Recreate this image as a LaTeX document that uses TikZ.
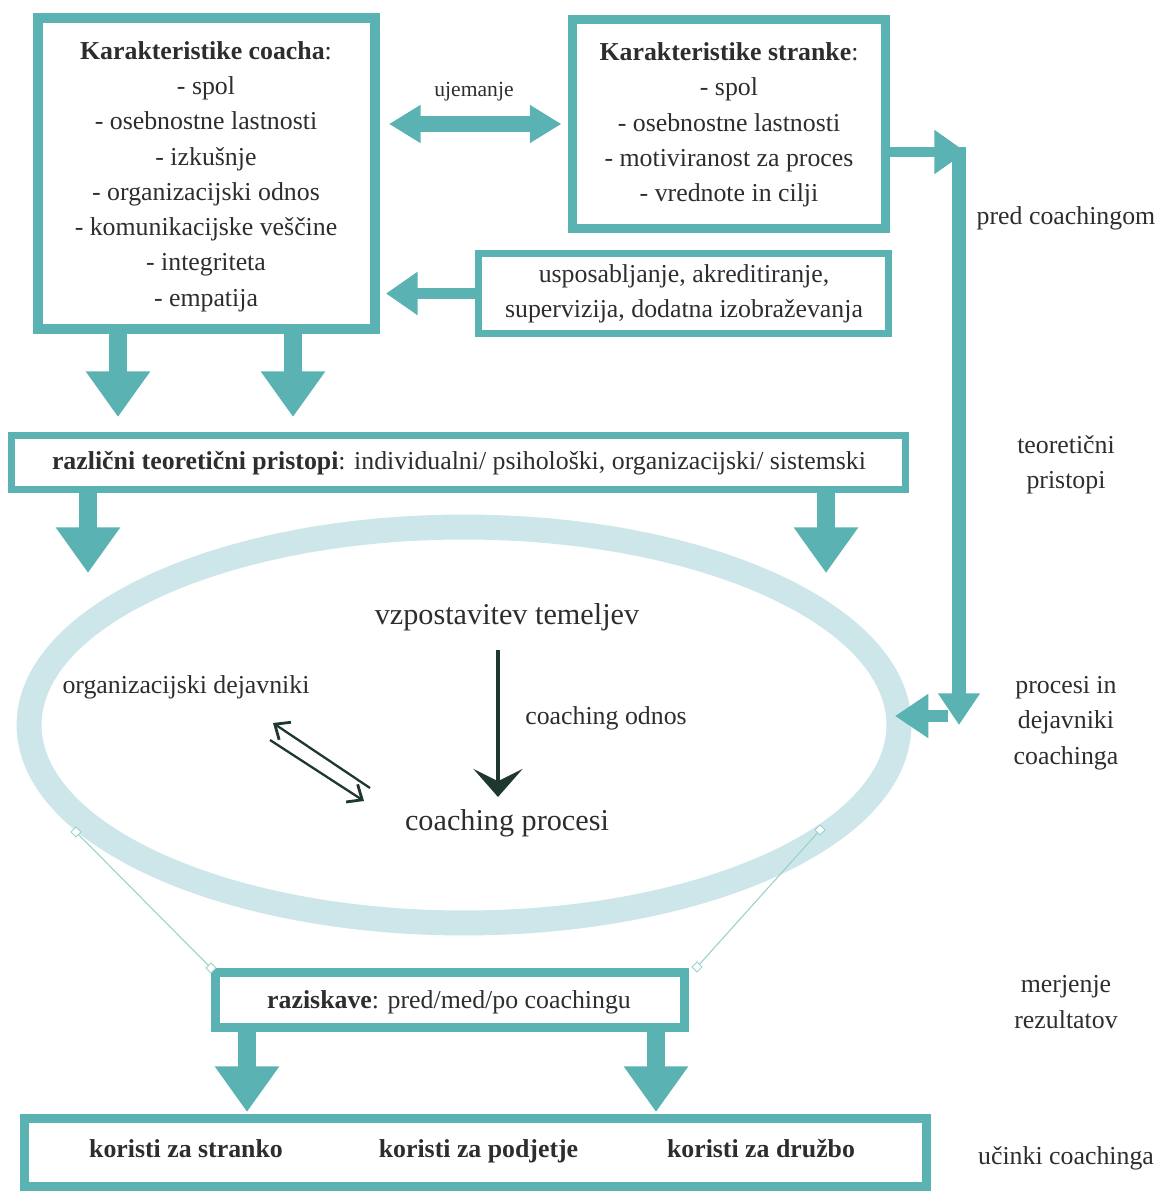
\documentclass[tikz,border=0pt]{standalone}
\usepackage{fontspec}
\setmainfont{Liberation Serif}
\usetikzlibrary{arrows.meta,fit,shapes.geometric}
\definecolor{tealc}{RGB}{90,178,178}
\definecolor{lightc}{RGB}{205,230,233}
\definecolor{thinc}{RGB}{150,210,200}
\definecolor{darkc}{RGB}{30,55,48}
\definecolor{txt}{RGB}{45,45,45}
\begin{document}
\begin{tikzpicture}[x=0.02cm,y=-0.02cm,
  box/.style={draw=tealc,inner sep=0pt},
  body/.style={text=txt,font=\fontsize{14.7}{20.1}\selectfont,align=center,inner sep=0pt},
  rowt/.style={body,text height=10pt,text depth=3pt},
  big/.style={text=txt,font=\fontsize{17.2}{21}\selectfont,inner sep=0pt},
  small/.style={text=txt,font=\fontsize{12.3}{15}\selectfont,inner sep=0pt},
  fat/.style={draw=tealc,line width=10.8pt,-{Triangle[width=35pt,length=26pt]}},
  dbl/.style={draw=tealc,line width=9pt,{Triangle[width=20.5pt,length=18pt]}-{Triangle[width=20.5pt,length=18pt]}},
  mid/.style={draw=tealc,line width=6.8pt,-{Triangle[width=23.5pt,length=18pt]}},
  thinl/.style={draw=thinc,line width=0.6pt},
  barb/.style={darkc,line width=1.3pt,-{Straight Barb[length=7pt,width=12pt,line width=1.6pt]}},
  dmark/.style={draw=thinc,fill=white,line width=0.5pt,diamond,inner sep=0pt,minimum size=6pt}
]
\useasboundingbox (0,0) rectangle (1159,1193);

% ellipse
\node[draw=lightc,line width=14.2pt,ellipse,minimum width=17.4cm,minimum height=7.92cm,inner sep=0pt] (ell) at (464,725) {};

% boxes
\node[box,line width=5.7pt,fit={(38,18)(375,329)}] (b1) {};
\node[box,line width=5.2pt,fit={(572.5,19.5)(885.5,228.5)}] (b2) {};
\node[box,line width=4pt,fit={(478.5,253.5)(888.5,333.5)}] (b3) {};
\node[box,line width=4pt,fit={(11.5,435.5)(905.5,489.5)}] (b4) {};
\node[box,line width=5.2pt,fit={(215.5,972.5)(684.5,1027.5)}] (b5) {};
\node[box,line width=5.2pt,fit={(24.5,1118.5)(926.5,1186.5)}] (b6) {};

% box texts
\node[body] (t1) at (206,176.5) {\textbf{Karakteristike coacha}:\\- spol\\- osebnostne lastnosti\\- izkušnje\\- organizacijski odnos\\- komunikacijske veščine\\- integriteta\\- empatija};
\node[body] (t2) at (729,125) {\textbf{Karakteristike stranke}:\\- spol\\- osebnostne lastnosti\\- motiviranost za proces\\- vrednote in cilji};
\node[body] (t3) at (684,294) {usposabljanje, akreditiranje,\\supervizija, dodatna izobraževanja};
\node[rowt] (t4) at (459,463) {\textbf{različni teoretični pristopi}: individualni/ psihološki, organizacijski/ sistemski};
\node[rowt] (t5) at (449,1002) {\textbf{raziskave}: pred/med/po coachingu};
\node[rowt] (k1) at (186,1151) {\textbf{koristi za stranko}};
\node[rowt] (k2) at (478.5,1151) {\textbf{koristi za podjetje}};
\node[rowt] (k3) at (761,1151) {\textbf{koristi za družbo}};
\node[small] (uj) at (474,92) {ujemanje};

% ellipse texts
\node[big] (e1) at (507,617) {vzpostavitev temeljev};
\node[rowt] (e2) at (186,687) {organizacijski dejavniki};
\node[rowt] (e3) at (606,718) {coaching odnos};
\node[big] (e4) at (507,823) {coaching procesi};

% right labels
\node[rowt] (r1l) at (1066,218) {pred coachingom};
\node[body] (r2l) at (1066,465) {teoretični\\pristopi};
\node[body] (r3l) at (1066,723) {procesi in\\dejavniki\\coachinga};
\node[body] (r4l) at (1066,1002) {merjenje\\rezultatov};
\node[rowt] (r5l) at (1066,1158) {učinki coachinga};

% fat down arrows
\coordinate (a1) at (118,417);
\coordinate (a2) at (293,417);
\coordinate (a3) at (88,573);
\coordinate (a4) at (826,573);
\coordinate (a5) at (247,1112);
\coordinate (a6) at (656,1112);
\draw[fat] (b1.south -| a1) -- (a1);
\draw[fat] (b1.south -| a2) -- (a2);
\draw[fat] (b4.south -| a3) -- (a3);
\draw[fat] (b4.south -| a4) -- (a4);
\draw[fat] (b5.south -| a5) -- (a5);
\draw[fat] (b5.south -| a6) -- (a6);

% double arrow
\coordinate (u) at (0,124);
\draw[dbl,shorten <=5.1pt,shorten >=3.7pt] (b1.east |- u) -- (b2.west |- u);

% training arrow
\draw[mid,shorten >=3.4pt] (b3.west) -- (b1.east |- b3.west);

% right connector
\coordinate (r0) at (959,147);
\coordinate (r1) at (966,152);
\coordinate (r2) at (959,725);
\coordinate (r3) at (948,716);
\coordinate (r4) at (895,716);
\draw[draw=tealc,line width=7.6pt,-{Triangle[width=22.7pt,length=18pt]}] (r0) -- (r2);
\draw[draw=tealc,line width=6.2pt,-{Triangle[width=24pt,length=18pt]}] (b2.east |- r1) -- (r1);
\draw[draw=tealc,line width=6.8pt,-{Triangle[width=24pt,length=19pt]}] (r3) -- (r4);

% dark arrows inside ellipse
\coordinate (v1) at (498,650);
\coordinate (v2) at (498,797);
\draw[darkc,line width=1.8pt,-{Stealth[width=28pt,length=16pt,inset=7pt]}] (v1) -- (v2);
\coordinate (d1) at (370,788);
\coordinate (d2) at (273,723);
\coordinate (d3) at (270,740);
\coordinate (d4) at (364,801);
\draw[barb] (d1) -- (d2);
\draw[barb] (d3) -- (d4);

% thin measuring lines
\node[dmark] (m1) at (76,832) {};
\node[dmark] (m2) at (211,968) {};
\node[dmark] (m3) at (820,830) {};
\node[dmark] (m4) at (697,967) {};
\draw[thinl] (m1) -- (m2);
\draw[thinl] (m3) -- (m4);
\end{tikzpicture}
\end{document}
